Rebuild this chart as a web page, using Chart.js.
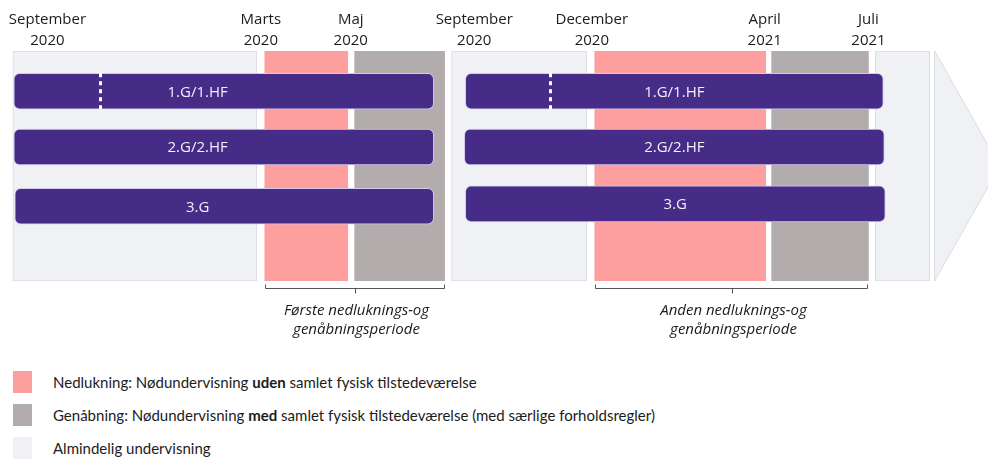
<!DOCTYPE html>
<html lang="da">
<head>
<meta charset="utf-8">
<title>Nedluknings- og genåbningsperioder</title>
<script src="https://cdn.jsdelivr.net/npm/chart.js@4.4.1/dist/chart.umd.min.js"></script>
<style>
  body { margin: 0; background: #fff; }
  #wrap { position: relative; width: 988px; height: 459px; overflow: hidden; }
  #chartBox { position: absolute; left: 0; top: 0; width: 988px; height: 350px; }
  #legend { position: absolute; left: 13px; top: 371px; font-family: Lato, sans-serif; font-size: 15px; color: #1c1c1c; }
  #legend .item { display: flex; align-items: center; height: 22px; margin-bottom: 11px; }
  #legend .box { width: 19px; height: 22px; margin-right: 21px; flex: none; }
</style>
</head>
<body>
<div id="wrap">
  <div id="chartBox"><canvas id="timeline"></canvas></div>
  <div id="legend"></div>
</div>
<script>
// tidslinje-position (0-100 over hele figurens bredde)
const monthTicks = [4.8, 26.4, 35.5, 48.0, 59.9, 77.4, 87.9];
const monthLabels = [
  ["September", "2020"], ["Marts", "2020"], ["Maj", "2020"],
  ["September", "2020"], ["December", "2020"], ["April", "2021"], ["Juli", "2021"]
];

const classes = ["1.G/1.HF", "2.G/2.HF", "3.G"];

// første skoleår
const year1Rows = [1, 1.97, 3.0];
const year1Start = [1.4, 1.4, 1.5];
const year1End = [43.9, 43.9, 43.9];
const year1LabelAt = 20.0;
const year1Marker = 10.1;

// andet skoleår
const year2Rows = [1, 1.97, 2.96];
const year2Start = [47.1, 47.0, 47.1];
const year2End = [89.4, 89.5, 89.6];
const year2Marker = 55.7;

// perioder
const lockdownStart = [26.8, 60.2];
const lockdownEnd = [35.2, 77.5];
const reopenStart = [35.9, 78.1];
const reopenEnd = [45.0, 87.9];
const normalStart = [1.3, 45.7, 88.6];
const normalEnd = [26.0, 59.4, 94.1];
const arrowFrom = 94.6;
const arrowTip = 101.2;

const periodNames = [
  ["Første nedluknings-og", "genåbningsperiode"],
  ["Anden nedluknings-og", "genåbningsperiode"]
];

const legendTexts = [
  ["Nedlukning: Nødundervisning ", "uden", " samlet fysisk tilstedeværelse"],
  ["Genåbning: Nødundervisning ", "med", " samlet fysisk tilstedeværelse (med særlige forholdsregler)"],
  ["Almindelig undervisning", "", ""]
];

const PURPLE = "#462c86";
const PINK = "#fd9e9f";
const GREY = "#b2adac";
const LIGHT = "#eff1f5";

function rowData(rows, start, end) {
  return classes.map((c, i) => ({ x: [start[i], end[i]], y: rows[i] }));
}
function periodData(start, end) {
  return start.map((s, i) => ({ x: [s, end[i]], y: "periode" }));
}

const rowStyle = {
  backgroundColor: PURPLE,
  borderColor: "#d3cbec",
  borderWidth: 1,
  borderRadius: 6,
  borderSkipped: false,
  barThickness: 36,
  grouped: false,
  yAxisID: "y",
  order: 0,
};
const panelStyle = {
  yAxisID: "yP",
  barPercentage: 1,
  categoryPercentage: 1,
  grouped: false,
  order: 1,
};

// tekst, klammer, markører og pil
const decor = {
  id: "decor",
  beforeDatasetsDraw(chart) {
    const { ctx, chartArea, scales } = chart;
    const x = scales.x;
    const x0 = x.getPixelForValue(arrowFrom);
    const x1 = x.getPixelForValue(arrowTip);
    ctx.save();
    ctx.beginPath();
    ctx.moveTo(x0, chartArea.top);
    ctx.lineTo(x1, (chartArea.top + chartArea.bottom) / 2);
    ctx.lineTo(x0, chartArea.bottom);
    ctx.closePath();
    ctx.fillStyle = LIGHT;
    ctx.fill();
    ctx.strokeStyle = "#d9dce2";
    ctx.lineWidth = 1;
    ctx.stroke();
    ctx.restore();
  },
  afterDatasetsDraw(chart) {
    const { ctx, chartArea, scales } = chart;
    const x = scales.x;
    ctx.save();

    // navne på klasserne
    ctx.fillStyle = "#f3f0fa";
    ctx.font = "15px 'Open Sans', sans-serif";
    ctx.textAlign = "center";
    ctx.textBaseline = "middle";
    chart.data.datasets.forEach((ds, i) => {
      if (!ds.classRow) return;
      chart.getDatasetMeta(i).data.forEach((bar, j) => {
        const p = bar.getProps(["x", "y", "base"], true);
        const cx = ds.labelAt != null ? x.getPixelForValue(ds.labelAt) : (p.x + p.base) / 2;
        ctx.fillText(classes[j], cx, p.y + 1);
      });
      // stiplet markør i første række
      const first = chart.getDatasetMeta(i).data[0].getProps(["y", "height"], true);
      const mx = Math.round(x.getPixelForValue(ds.marker)) + 0.5;
      ctx.save();
      ctx.strokeStyle = "#ffffff";
      ctx.lineWidth = 3;
      ctx.setLineDash([4, 4]);
      ctx.beginPath();
      ctx.moveTo(mx, first.y - first.height / 2);
      ctx.lineTo(mx, first.y + first.height / 2);
      ctx.stroke();
      ctx.restore();
    });

    // klammer og periodenavne
    const by = chartArea.bottom + 7.5;
    ctx.strokeStyle = "#555";
    ctx.lineWidth = 1;
    ctx.fillStyle = "#1c1c1c";
    ctx.font = "italic 15px 'Open Sans', sans-serif";
    periodNames.forEach((lines, k) => {
      const a = Math.round(x.getPixelForValue(lockdownStart[k])) + 0.5;
      const b = Math.round(x.getPixelForValue(reopenEnd[k])) - 0.5;
      const m = Math.round((a + b) / 2) + 0.5;
      ctx.beginPath();
      ctx.moveTo(a, by - 4);
      ctx.lineTo(a, by);
      ctx.lineTo(b, by);
      ctx.lineTo(b, by - 4);
      ctx.moveTo(m, by);
      ctx.lineTo(m, by + 5);
      ctx.stroke();
      ctx.fillText(lines[0], m + 1, chartArea.bottom + 30);
      ctx.fillText(lines[1], m + 1, chartArea.bottom + 49);
    });
    ctx.restore();
  }
};

const chart = new Chart(document.getElementById("timeline"), {
  type: "bar",
  data: {
    datasets: [
      Object.assign({ label: "Skoleår 1", classRow: true, labelAt: year1LabelAt, marker: year1Marker,
        data: rowData(year1Rows, year1Start, year1End) }, rowStyle),
      Object.assign({ label: "Skoleår 2", classRow: true, marker: year2Marker,
        data: rowData(year2Rows, year2Start, year2End) }, rowStyle),
      Object.assign({ label: "Nedlukning", backgroundColor: PINK,
        data: periodData(lockdownStart, lockdownEnd) }, panelStyle),
      Object.assign({ label: "Genåbning", backgroundColor: GREY,
        data: periodData(reopenStart, reopenEnd) }, panelStyle),
      Object.assign({ label: "Almindelig undervisning", backgroundColor: LIGHT,
        borderColor: "#d9dce2", borderWidth: 1, borderSkipped: false,
        data: periodData(normalStart, normalEnd) }, panelStyle),
    ],
  },
  options: {
    indexAxis: "y",
    responsive: true,
    maintainAspectRatio: false,
    animation: false,
    layout: { padding: { left: 0, right: 0, top: 0, bottom: 69 } },
    plugins: {
      legend: { display: false },
      tooltip: { enabled: false },
    },
    scales: {
      x: {
        type: "linear",
        position: "top",
        min: 0,
        max: 100,
        grid: { display: false, drawTicks: false },
        border: { display: false },
        afterFit: (scale) => { scale.height = 51; },
        afterBuildTicks: (scale) => {
          scale.ticks = monthTicks.map((v) => ({ value: v }));
        },
        ticks: {
          autoSkip: false,
          maxRotation: 0,
          padding: 0,
          color: "#1c1c1c",
          font: { family: "'Open Sans', sans-serif", size: 15, lineHeight: 1.4 },
          callback: (value, index) => monthLabels[index],
        },
      },
      y: {
        type: "linear",
        reverse: true,
        min: 0.3,
        max: 4.3,
        offset: false,
        display: false,
      },
      yP: {
        type: "category",
        axis: "y",
        labels: ["periode"],
        offset: true,
        display: false,
      },
    },
  },
  plugins: [decor],
});

// forklaring under figuren, farver hentet fra datasættene
const legendBox = document.getElementById("legend");
chart.data.datasets.slice(2).forEach((ds, i) => {
  const item = document.createElement("div");
  item.className = "item";
  const box = document.createElement("span");
  box.className = "box";
  box.style.background = ds.backgroundColor;
  const text = document.createElement("span");
  const [pre, bold, post] = legendTexts[i];
  text.append(pre);
  if (bold) {
    const b = document.createElement("b");
    b.textContent = bold;
    text.append(b);
  }
  text.append(post);
  item.append(box, text);
  legendBox.append(item);
});
</script>
</body>
</html>
